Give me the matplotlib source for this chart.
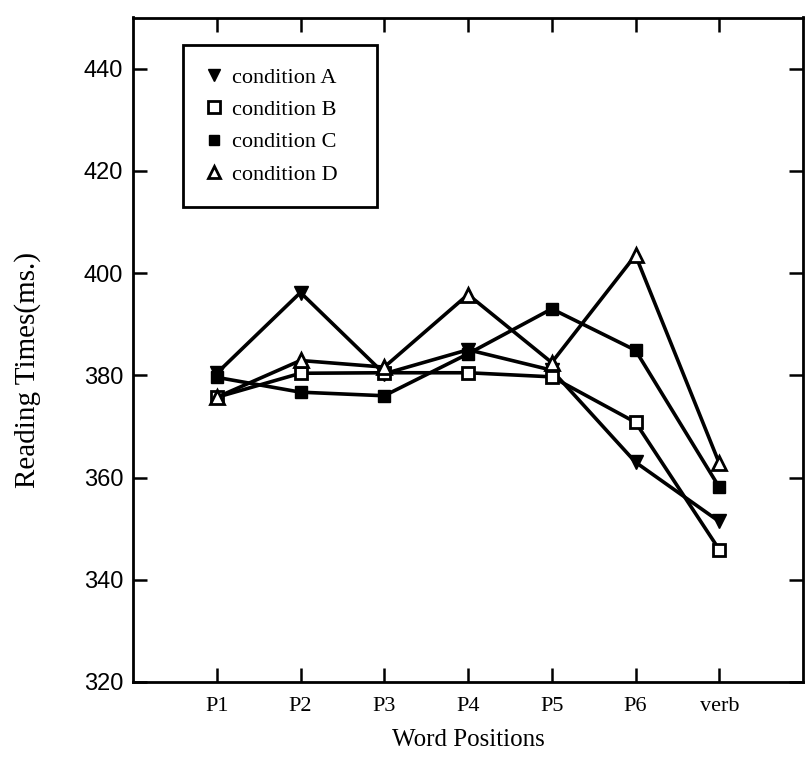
import matplotlib
matplotlib.use("Agg")
import matplotlib.pyplot as plt
from matplotlib.lines import Line2D

positions = ["P1", "P2", "P3", "P4", "P5", "P6", "verb"]
cond_a = [380.4, 396.2, 380.3, 385.0, 381.0, 363.0, 351.4]
cond_b = [375.7, 380.4, 380.5, 380.5, 379.7, 370.8, 345.9]
cond_c = [379.6, 376.7, 376.0, 384.2, 393.0, 384.9, 358.1]
cond_d = [375.7, 382.9, 381.6, 395.8, 382.5, 403.5, 362.8]
y_ticks = [320, 340, 360, 380, 400, 420, 440]

serif = ["Liberation Serif", "DejaVu Serif"]
sans = ["Liberation Sans", "DejaVu Sans"]

fig = plt.figure(figsize=(8.05, 7.7), dpi=100)
ax = fig.add_axes([133/805, 1-682/770, 670/805, 664.5/770])

x = list(range(1, len(positions) + 1))
lw = 2.6
ax.plot(x, cond_a, color="black", lw=lw, marker="v", ms=9.5, mfc="black", mec="black", zorder=3)
ax.plot(x, cond_b, color="black", lw=lw, marker="s", ms=8.5, mfc="white", mec="black", mew=2, zorder=3)
ax.plot(x, cond_c, color="black", lw=lw, marker="s", ms=8.5, mfc="black", mec="black", zorder=3)
ax.plot(x, cond_d, color="black", lw=lw, marker="^", ms=9.5, mfc="white", mec="black", mew=2, zorder=3)

ax.set_xlim(0, 8)
ax.set_ylim(320, 450)
ax.set_xticks(x)
ax.set_xticklabels(positions, fontfamily=serif, fontsize=16)
ax.set_yticks(y_ticks)
ax.set_yticklabels([str(v) for v in y_ticks], fontfamily=sans, fontsize=17)
ax.tick_params(axis="both", direction="in", length=10, width=1.8, top=True, right=True)
ax.tick_params(axis="x", pad=11)
ax.tick_params(axis="y", pad=7)
for s in ax.spines.values():
    s.set_linewidth(2.0)

ax.set_xlabel("Word Positions", fontfamily=serif, fontsize=18, labelpad=9)
ax.set_ylabel("Reading Times(ms.)", fontfamily=serif, fontsize=21)
ax.yaxis.set_label_coords(-0.137, 0.47)

handles = [
    Line2D([], [], ls="none", marker="v", ms=9, mfc="black", mec="black"),
    Line2D([], [], ls="none", marker="s", ms=8, mfc="white", mec="black", mew=2),
    Line2D([], [], ls="none", marker="s", ms=7.5, mfc="black", mec="black"),
    Line2D([], [], ls="none", marker="^", ms=9, mfc="white", mec="black", mew=2),
]
labels = ["condition A", "condition B", "condition C", "condition D"]
leg_x0 = 50/670
leg_y1 = (682-45)/664.5
leg_w = 194/670
leg_h = 160/664.5
leg = ax.legend(handles, labels, loc="upper left",
                bbox_to_anchor=(leg_x0, leg_y1 - leg_h, leg_w, leg_h), mode="expand",
                frameon=True, fancybox=False, edgecolor="black", framealpha=1,
                handlelength=0.8, handletextpad=0.4, labelspacing=0.53, borderpad=1.0,
                borderaxespad=0, prop={"family": serif, "size": 16})
leg.get_frame().set_linewidth(2.0)

fig.savefig("out.png", dpi=100, facecolor="white")
